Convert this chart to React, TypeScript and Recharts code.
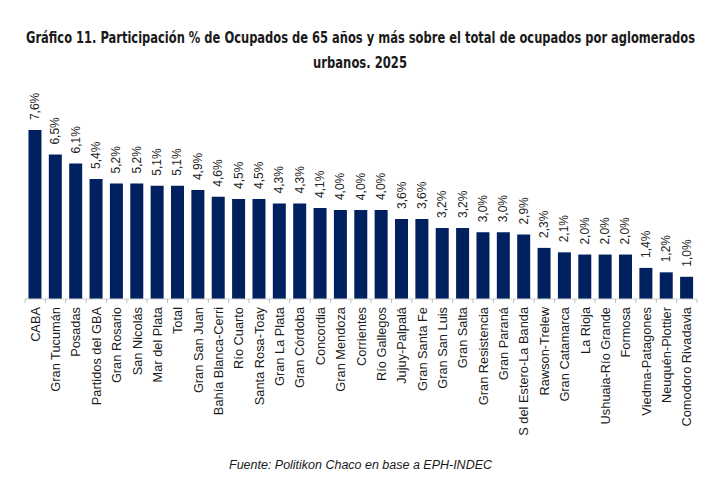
import React from "react";
import { BarChart, Bar, XAxis, YAxis, LabelList } from "recharts";

// Aglomerados urbanos, ordenados de mayor a menor participación
const aglomerados = [
  "CABA",
  "Gran Tucumán",
  "Posadas",
  "Partidos del GBA",
  "Gran Rosario",
  "San Nicolás",
  "Mar del Plata",
  "Total",
  "Gran San Juan",
  "Bahía Blanca-Cerri",
  "Río Cuarto",
  "Santa Rosa-Toay",
  "Gran La Plata",
  "Gran Córdoba",
  "Concordia",
  "Gran Mendoza",
  "Corrientes",
  "Río Gallegos",
  "Jujuy-Palpalá",
  "Gran Santa Fe",
  "Gran San Luis",
  "Gran Salta",
  "Gran Resistencia",
  "Gran Paraná",
  "S del Estero-La Banda",
  "Rawson-Trelew",
  "Gran Catamarca",
  "La Rioja",
  "Ushuaia-Río Grande",
  "Formosa",
  "Viedma-Patagones",
  "Neuquén-Plottier",
  "Comodoro Rivadavia",
];

// % de ocupados de 65 años y más
const participacion = [
  7.6, 6.5, 6.1, 5.4, 5.2, 5.2, 5.1, 5.1, 4.9, 4.6, 4.5, 4.5, 4.3, 4.3, 4.1,
  4.0, 4.0, 4.0, 3.6, 3.6, 3.2, 3.2, 3.0, 3.0, 2.9, 2.3, 2.1, 2.0, 2.0, 2.0,
  1.4, 1.2, 1.0,
];

const titulo = [
  "Gráfico 11. Participación % de Ocupados de 65 años y más sobre el total de ocupados por aglomerados",
  "urbanos. 2025",
];
const fuente = "Fuente: Politikon Chaco en base a EPH-INDEC";

const data = aglomerados.map((nombre, i) => ({
  nombre,
  valor: participacion[i],
}));

const W = 709;
const H = 491;
const MARGIN = { top: 99, right: 12, bottom: 0, left: 25 };
const BAND = (W - MARGIN.left - MARGIN.right) / aglomerados.length;
const FONT = "'Liberation Sans', Arial, sans-serif";
const TITLE_FONT = "'DejaVu Sans Condensed', 'Liberation Sans', sans-serif";
const BLUE = "#002060";
// horizontal squeeze so the bold title reads as a narrow face
const SQUEEZE = 0.853;

const fmt = (v: number) => `${v.toFixed(1).replace(".", ",")}%`;

const ValueLabel = (props: any) => {
  const { x, y, width, value } = props;
  const cx = x + width / 2;
  const ty = y - 10;
  return (
    <text
      x={cx}
      y={ty}
      transform={`rotate(-90, ${cx}, ${ty})`}
      textAnchor="start"
      dominantBaseline="central"
      fontSize={12}
      fontFamily={FONT}
      fill="#262626"
    >
      {fmt(value)}
    </text>
  );
};

const CategoryTick = (props: any) => {
  const { x, y, payload, index } = props;
  const ty = y + 8;
  const left = x - BAND / 2;
  return (
    <g>
      <line x1={left} x2={left} y1={y} y2={y + 4} stroke="#bfbfbf" />
      {index === aglomerados.length - 1 && (
        <line x1={x + BAND / 2} x2={x + BAND / 2} y1={y} y2={y + 4} stroke="#bfbfbf" />
      )}
      <text
        x={x}
        y={ty}
        transform={`rotate(-90, ${x}, ${ty})`}
        textAnchor="end"
        dominantBaseline="central"
        fontSize={12.8}
        fontFamily={FONT}
        fill="#1a1a1a"
      >
        {payload.value}
      </text>
    </g>
  );
};

export default function App() {
  return (
    <div
      style={{
        position: "fixed",
        left: 0,
        top: 0,
        width: W,
        height: H,
        background: "#fff",
        overflow: "hidden",
      }}
    >
      <BarChart
        width={W}
        height={H}
        data={data}
        margin={MARGIN}
        barCategoryGap="17%"
        style={{ position: "absolute", left: 0, top: 0 }}
      >
        <XAxis
          dataKey="nombre"
          interval={0}
          height={192}
          tickLine={false}
          tickSize={0}
          tickMargin={0}
          stroke="#d0d0d0"
          tick={<CategoryTick />}
        />
        <YAxis hide domain={[0, 9]} />
        <Bar dataKey="valor" fill={BLUE} isAnimationActive={false}>
          <LabelList dataKey="valor" content={<ValueLabel />} />
        </Bar>
      </BarChart>

      <svg
        width={W}
        height={H}
        style={{ position: "absolute", left: 0, top: 0, pointerEvents: "none" }}
      >
        <g transform={`translate(26, 43) scale(${SQUEEZE}, 1)`}>
          <text
            x={0}
            y={0}
            textLength={669 / SQUEEZE}
            lengthAdjust="spacingAndGlyphs"
            fontFamily={TITLE_FONT}
            fontWeight="bold"
            fontSize={15}
            fill="#1a1a1a"
          >
            {titulo[0]}
          </text>
        </g>
        <g transform={`translate(313, 68) scale(${SQUEEZE}, 1)`}>
          <text
            x={0}
            y={0}
            textLength={94 / SQUEEZE}
            lengthAdjust="spacingAndGlyphs"
            fontFamily={TITLE_FONT}
            fontWeight="bold"
            fontSize={15}
            fill="#1a1a1a"
          >
            {titulo[1]}
          </text>
        </g>
        <text
          x={229}
          y={469}
          textLength={263}
          lengthAdjust="spacingAndGlyphs"
          fontFamily={FONT}
          fontStyle="italic"
          fontSize={12.5}
          fill="#1a1a1a"
        >
          {fuente}
        </text>
      </svg>
    </div>
  );
}
